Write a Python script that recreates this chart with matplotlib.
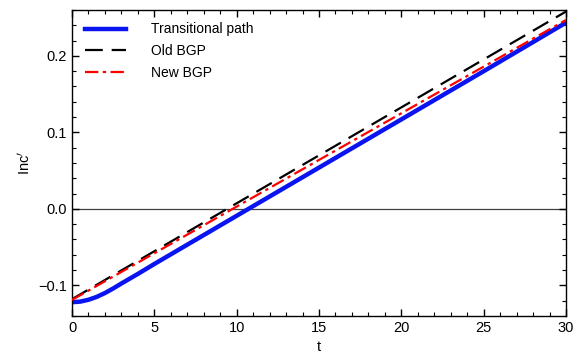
import matplotlib
matplotlib.use('Agg')
import matplotlib.pyplot as plt
from matplotlib.ticker import MultipleLocator

plt.rcParams['font.family'] = ['Liberation Sans', 'DejaVu Sans']
plt.rcParams['axes.unicode_minus'] = True

# data
t_path = [0, 0.5, 1, 1.5, 2, 2.5, 3, 4, 5, 7, 10, 15, 20, 25, 30]
inc_path = [-0.1220, -0.1212, -0.1188, -0.1150, -0.1100, -0.1040, -0.0975,
            -0.0850, -0.0720, -0.0468, -0.0090, 0.0540, 0.1170, 0.1800, 0.2435]

t_bgp = [0, 10, 20, 30]
inc_old = [-0.1180, 0.0073, 0.1327, 0.2580]
inc_new = [-0.1190, 0.0030, 0.1250, 0.2470]

fig = plt.figure(figsize=(5.77, 3.62), dpi=100)
ax = fig.add_axes([0.1248, 0.1271, 0.8562, 0.8453])

ax.axhline(0, color='#404040', lw=0.9, zorder=1)
ax.plot(t_path, inc_path, color='#0a14f0', lw=3.2, label='Transitional path', zorder=2)
ax.plot(t_bgp, inc_old, color='black', lw=1.6, dashes=(8, 4), label='Old BGP', zorder=3)
ax.plot(t_bgp, inc_new, color='#ff0000', lw=1.6, dashes=(6, 2, 1.5, 2), label='New BGP', zorder=4)

ax.set_xlim(0, 30)
ax.set_ylim(-0.14, 0.26)
ax.xaxis.set_major_locator(MultipleLocator(5))
ax.xaxis.set_minor_locator(MultipleLocator(1))
ax.yaxis.set_major_locator(MultipleLocator(0.1))
ax.yaxis.set_minor_locator(MultipleLocator(0.02))
ax.yaxis.set_major_formatter(plt.FuncFormatter(lambda v, p: f'{v:.1f}'.replace('-', '\u2212')))
ax.tick_params(which='both', direction='in', top=True, right=True, labelsize=10.5)
ax.tick_params(which='major', length=5, width=1)
ax.tick_params(which='minor', length=3, width=0.8)
for s in ax.spines.values():
    s.set_linewidth(1.0)

ax.set_xlabel('t', fontsize=10.5)
ax.set_ylabel(r'Inc$^{\prime}$', fontsize=10.5)

ax.legend(loc='upper left', frameon=False, fontsize=10, handlelength=3.0,
          handletextpad=1.8, borderaxespad=0.5, labelspacing=0.55)

plt.savefig('out.png', dpi=100)
